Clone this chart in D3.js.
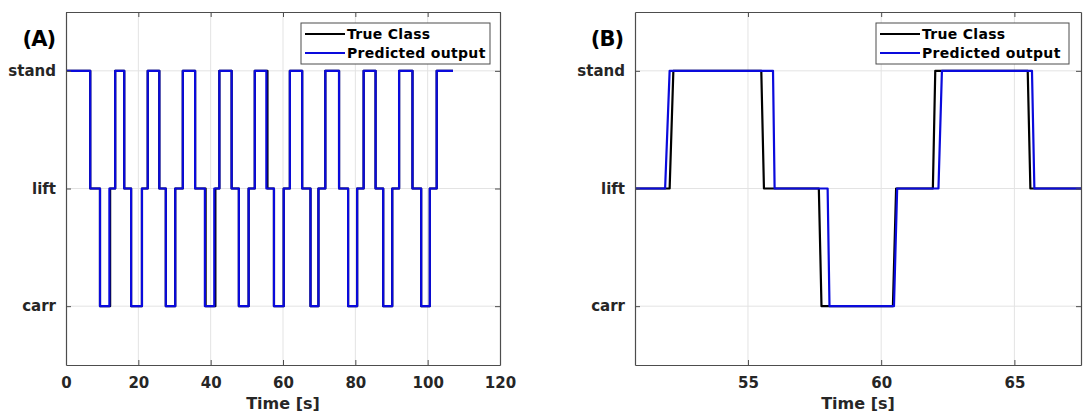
<!DOCTYPE html>
<html>
<head>
<meta charset="utf-8">
<script src="https://cdn.jsdelivr.net/npm/d3@7"></script>
<style>
  html, body { margin: 0; padding: 0; background: #fff; }
  svg { display: block; }
  text { font-family: "DejaVu Sans", Arial, sans-serif; font-weight: bold; }
</style>
</head>
<body>
<svg id="chart" width="1087" height="414"></svg>
<script>
// Activity classes on the y axis (1 = carr, 2 = lift, 3 = stand)
const classLabels = ["carr", "lift", "stand"];
const classLevels = [1, 2, 3];

// Panel A: full recording, change points [s] and the class held from each one
const predA_times  = [0, 6.7, 9.4, 12.0, 13.6, 16.1, 18.0, 21.0, 22.6, 25.8, 27.6, 30.2, 32.3, 35.7, 38.4, 41.0, 42.4, 45.8, 47.8, 50.5, 52.2, 55.4, 57.5, 60.2, 61.9, 65.3, 67.6, 69.8, 71.7, 75.5, 78.0, 80.5, 82.3, 85.6, 87.7, 90.2, 92.1, 95.8, 98.2, 100.6, 102.5, 107.0];
const predA_levels = [3, 2, 1, 2, 3, 2, 1, 2, 3, 2, 1, 2, 3, 2, 1, 2, 3, 2, 1, 2, 3, 2, 1, 2, 3, 2, 1, 2, 3, 2, 1, 2, 3, 2, 1, 2, 3, 2, 1, 2, 3, 3];
const trueA_times  = [0, 6.7, 9.4, 12.2, 13.6, 16.1, 18.0, 21.0, 22.6, 25.8, 27.6, 30.2, 32.3, 35.7, 38.6, 41.3, 42.4, 45.8, 47.8, 50.5, 52.2, 55.7, 57.5, 60.2, 61.9, 65.3, 67.6, 69.8, 71.7, 75.5, 78.0, 80.5, 82.3, 85.6, 87.7, 90.2, 92.1, 95.8, 98.2, 100.6, 102.5, 107.0];
const trueA_levels = [3, 2, 1, 2, 3, 2, 1, 2, 3, 2, 1, 2, 3, 2, 1, 2, 3, 2, 1, 2, 3, 2, 1, 2, 3, 2, 1, 2, 3, 2, 1, 2, 3, 2, 1, 2, 3, 2, 1, 2, 3, 3];

// Panel B: close-up window, sampled points [s] and class
const predB_times  = [50.0, 51.89, 52.06, 55.94, 56.0, 57.99, 58.06, 60.48, 60.6, 62.15, 62.28, 65.66, 65.75, 68.0];
const predB_levels = [2, 2, 3, 3, 2, 2, 1, 1, 2, 2, 3, 3, 2, 2];
const trueB_times  = [50.0, 52.06, 52.2, 55.5, 55.6, 57.66, 57.76, 60.44, 60.56, 61.94, 62.03, 65.5, 65.6, 68.0];
const trueB_levels = [2, 2, 3, 3, 2, 2, 1, 1, 2, 2, 3, 3, 2, 2];

// Axis ticks
const ticksA = [0, 20, 40, 60, 80, 100, 120];
const ticksB = [55, 60, 65];

const seriesNames = ["True Class", "Predicted output"];
const seriesColors = ["#000000", "#0a0adc"];

const svg = d3.select("#chart");
const axisColor = "#4d4d4d";
const gridColor = "#e3e3e3";
const textColor = "#262626";

function zip(ts, vs) { return ts.map((t, i) => ({ t: t, v: vs[i] })); }

function drawPanel(cfg) {
  const { left, right, top, bottom, domain, ticks, series, curve, tag, tagX, legendX, id } = cfg;
  const x = d3.scaleLinear().domain(domain).range([left, right]);
  const y = d3.scaleLinear().domain([0.5, 3.5]).range([bottom, top]);
  const g = svg.append("g");

  // grid
  g.append("g").selectAll("line").data(ticks.filter(t => t > domain[0] && t < domain[1]))
    .join("line")
    .attr("x1", d => x(d)).attr("x2", d => x(d))
    .attr("y1", top).attr("y2", bottom)
    .attr("stroke", gridColor).attr("stroke-width", 1);
  g.append("g").selectAll("line").data(classLevels)
    .join("line")
    .attr("x1", left).attr("x2", right)
    .attr("y1", d => y(d)).attr("y2", d => y(d))
    .attr("stroke", gridColor).attr("stroke-width", 1);

  // clip for the traces
  svg.append("clipPath").attr("id", id)
    .append("rect").attr("x", left).attr("y", top).attr("width", right - left).attr("height", bottom - top);

  const line = d3.line().x(d => x(d.t)).y(d => y(d.v)).curve(curve);
  series.forEach((s, i) => {
    g.append("path")
      .datum(s)
      .attr("clip-path", `url(#${id})`)
      .attr("fill", "none")
      .attr("stroke", seriesColors[i])
      .attr("stroke-width", 2.2)
      .attr("stroke-linejoin", "round")
      .attr("d", line);
  });

  // axes (box with inward ticks on all four sides)
  const tickLen = 5;
  const xBottom = d3.axisBottom(x).tickValues(ticks).tickSize(-tickLen).tickSizeOuter(0).tickPadding(12).tickFormat(d3.format("d"));
  const xTop = d3.axisTop(x).tickValues(ticks).tickSize(-tickLen).tickSizeOuter(0).tickFormat("");
  const yLeft = d3.axisLeft(y).tickValues(classLevels).tickSize(-tickLen).tickSizeOuter(0).tickPadding(10)
    .tickFormat(d => classLabels[classLevels.indexOf(d)]);
  const yRight = d3.axisRight(y).tickValues(classLevels).tickSize(-tickLen).tickSizeOuter(0).tickFormat("");

  const styleAxis = sel => {
    sel.select(".domain").attr("stroke", axisColor).attr("stroke-width", 1.2);
    sel.selectAll(".tick line").attr("stroke", axisColor);
    sel.selectAll(".tick text").attr("fill", textColor).attr("font-size", 15)
      .attr("font-family", "'DejaVu Sans', sans-serif").attr("font-weight", "bold");
  };
  g.append("g").attr("transform", `translate(0,${bottom})`).call(xBottom).call(styleAxis);
  g.append("g").attr("transform", `translate(0,${top})`).call(xTop).call(styleAxis);
  g.append("g").attr("transform", `translate(${left},0)`).call(yLeft).call(styleAxis);
  g.append("g").attr("transform", `translate(${right},0)`).call(yRight).call(styleAxis);

  // axis title
  g.append("text").attr("x", (left + right) / 2).attr("y", 409)
    .attr("text-anchor", "middle").attr("font-size", 16).attr("fill", textColor)
    .text("Time [s]");

  // panel tag
  g.append("text").attr("x", tagX).attr("y", 46)
    .attr("text-anchor", "end").attr("font-size", 21).attr("fill", "#000")
    .attr("letter-spacing", -1)
    .text(tag);

  // legend
  const lg = g.append("g");
  const lw = right === 500 ? 189 : 193;
  lg.append("rect").attr("x", legendX).attr("y", 23).attr("width", lw).attr("height", 41)
    .attr("fill", "#fff").attr("stroke", axisColor).attr("stroke-width", 1);
  seriesNames.forEach((name, i) => {
    const yy = 34 + i * 19;
    lg.append("line").attr("x1", legendX + 4).attr("x2", legendX + 44)
      .attr("y1", yy).attr("y2", yy)
      .attr("stroke", seriesColors[i]).attr("stroke-width", 2.2);
    lg.append("text").attr("x", legendX + 46).attr("y", yy + 5)
      .attr("font-size", 14).attr("fill", "#000")
      .attr("letter-spacing", 0.3)
      .text(name);
  });
}

drawPanel({
  id: "clipA",
  left: 66, right: 500, top: 12, bottom: 365,
  domain: [0, 120], ticks: ticksA,
  series: [zip(trueA_times, trueA_levels), zip(predA_times, predA_levels)],
  curve: d3.curveStepAfter,
  tag: "(A)", tagX: 55, legendX: 301
});

drawPanel({
  id: "clipB",
  left: 635, right: 1081, top: 12, bottom: 365,
  domain: [50.76, 67.5], ticks: ticksB,
  series: [zip(trueB_times, trueB_levels), zip(predB_times, predB_levels)],
  curve: d3.curveLinear,
  tag: "(B)", tagX: 623, legendX: 876
});
</script>
</body>
</html>
